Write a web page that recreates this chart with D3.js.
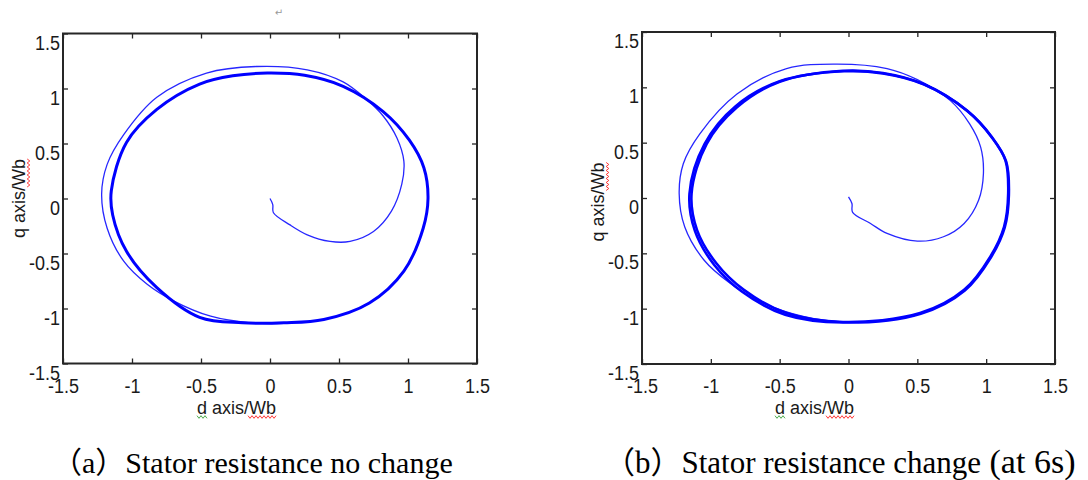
<!DOCTYPE html>
<html><head><meta charset="utf-8">
<script src="https://cdn.jsdelivr.net/npm/d3@7"></script>
<style>body{margin:0;background:#fff;overflow:hidden}</style>
</head><body>
<svg id="c" width="1088" height="480"></svg>
<script>
// ---- data ----
const tickValues = [-1.5, -1, -0.5, 0, 0.5, 1, 1.5];
const tickLabels = ["-1.5", "-1", "-0.5", "0", "0.5", "1", "1.5"];
const axisTitleX = "d axis/Wb";
const axisTitleY = "q axis/Wb";
const captionA = "（a）Stator resistance no change";
const captionB = "（b）Stator resistance change";
const captionBTail = " (at 6s)";

// panel (a): start-up transient of the flux trajectory [d, q]
const transientA = [
  [0.0, 0.0], [0.02, -0.055], [0.025, -0.13], [0.145, -0.24], [0.27, -0.33],
  [0.435, -0.39], [0.58, -0.39], [0.75, -0.30], [0.88, -0.115], [0.955, 0.13],
  [0.97, 0.34], [0.92, 0.55], [0.82, 0.75], [0.70, 0.90], [0.53, 1.06],
  [0.27, 1.17], [-0.1, 1.20], [-0.46, 1.14], [-0.82, 0.92], [-1.06, 0.58],
  [-1.18, 0.31], [-1.22, 0.04], [-1.18, -0.27], [-1.06, -0.57], [-0.89, -0.78],
  [-0.70, -0.93], [-0.43, -1.07], [-0.145, -1.13], [0.1, -1.135]
];
// panel (a): steady-state flux circle
const steadyA = [
  [1.145, 0.0], [1.115, 0.28], [1.01, 0.53], [0.82, 0.79], [0.53, 1.02],
  [0.25, 1.12], [-0.02, 1.14], [-0.27, 1.115], [-0.51, 1.04], [-0.82, 0.81],
  [-1.04, 0.51], [-1.15, 0.07], [-1.14, -0.15], [-1.04, -0.48], [-0.82, -0.81],
  [-0.51, -1.08], [-0.2, -1.13], [0.1, -1.13], [0.39, -1.1], [0.72, -0.95],
  [0.97, -0.66], [1.11, -0.27]
];
// panel (b): start-up transient
const transientB = [
  [0.0, 0.01], [0.025, -0.05], [0.03, -0.13], [0.16, -0.23], [0.28, -0.32],
  [0.50, -0.39], [0.69, -0.35], [0.84, -0.23], [0.945, -0.02], [0.98, 0.22],
  [0.96, 0.46], [0.88, 0.67], [0.74, 0.88], [0.50, 1.07], [0.28, 1.17],
  [-0.08, 1.21], [-0.45, 1.17], [-0.81, 0.94], [-1.08, 0.58], [-1.20, 0.31],
  [-1.23, 0.04], [-1.19, -0.26], [-1.05, -0.56], [-0.86, -0.77], [-0.62, -0.95],
  [-0.33, -1.07], [-0.04, -1.12], [0.2, -1.11]
];
// panel (b): steady circle before the resistance change
const steadyB1 = [
  [1.16, 0.04], [1.14, 0.34], [1.04, 0.55], [0.86, 0.79], [0.545, 1.03],
  [0.25, 1.13], [-0.04, 1.15], [-0.5, 1.05], [-0.81, 0.82], [-1.03, 0.49],
  [-1.14, 0.04], [-1.10, -0.29], [-0.96, -0.59], [-0.76, -0.83], [-0.45, -1.04],
  [-0.04, -1.12], [0.52, -1.04], [0.84, -0.83], [1.03, -0.53], [1.13, -0.26]
];
// panel (b): steady circle after the resistance change
const steadyB2 = [
  [1.165, 0.03], [1.145, 0.33], [1.045, 0.545], [0.865, 0.785], [0.55, 1.025],
  [0.25, 1.125], [-0.03, 1.145], [-0.5, 1.055], [-0.82, 0.83], [-1.045, 0.49],
  [-1.155, 0.04], [-1.115, -0.30], [-0.975, -0.605], [-0.775, -0.845], [-0.46, -1.055],
  [-0.04, -1.125], [0.525, -1.045], [0.845, -0.835], [1.035, -0.535], [1.135, -0.265]
];

// ---- drawing ----
const svg = d3.select("#c");
svg.append("rect").attr("width", 1088).attr("height", 480).attr("fill", "#fff");

const axisColor = "#262626";
const blue = "#0000ff";
const tickFont = "'Liberation Sans', Arial, sans-serif";
const stretch = 1.15;

function squiggle(x1, x2, y, color, vertical) {
  const pts = [];
  let i = 0;
  for (let t = x1; t <= x2; t += 2, i++) {
    const o = (i % 2 ? 1.3 : -1.3);
    pts.push(vertical ? [y + o, t] : [t, y + o]);
  }
  svg.append("path").attr("d", d3.line()(pts)).attr("fill", "none")
    .attr("stroke", color).attr("stroke-width", 0.9);
}

function panel(box, transient, loops, loopWidth, titleXStart, titleYCenter, titleYBase) {
  const x = d3.scaleLinear().domain([tickValues[0], tickValues[tickValues.length - 1]]).range([box.l, box.r]);
  const y = d3.scaleLinear().domain([tickValues[0], tickValues[tickValues.length - 1]]).range([box.b, box.t]);
  const g = svg.append("g");
  const fmt = (d) => tickLabels[tickValues.indexOf(d)];

  const gb = g.append("g").attr("transform", `translate(0,${box.b})`)
    .call(d3.axisBottom(x).tickValues(tickValues).tickFormat(fmt).tickSizeInner(-5).tickSizeOuter(0).tickPadding(16));
  const gl = g.append("g").attr("transform", `translate(${box.l},0)`)
    .call(d3.axisLeft(y).tickValues(tickValues).tickFormat(fmt).tickSizeInner(-5).tickSizeOuter(0).tickPadding(3));
  const gt = g.append("g").attr("transform", `translate(0,${box.t})`)
    .call(d3.axisTop(x).tickValues(tickValues).tickFormat("").tickSizeInner(-5).tickSizeOuter(0));
  const gr = g.append("g").attr("transform", `translate(${box.r},0)`)
    .call(d3.axisRight(y).tickValues(tickValues).tickFormat("").tickSizeInner(-5).tickSizeOuter(0));
  [gb, gl, gt, gr].forEach(a => {
    a.select(".domain").remove();
    a.selectAll(".tick line").attr("stroke", axisColor).attr("stroke-width", 1.3);
    a.selectAll("text").attr("font-family", tickFont).attr("font-size", 18).attr("fill", "#1a1a1a");
  });
  // vertically stretched tick labels, as in the source figure
  gb.selectAll("text").attr("dy", 0).attr("y", 29.5 / stretch).attr("transform", `scale(1,${stretch})`);
  gl.selectAll("text").attr("dy", 0).attr("y", 15.5 / stretch).attr("transform", `scale(1,${stretch})`);

  g.append("rect").attr("x", box.l).attr("y", box.t).attr("width", box.r - box.l).attr("height", box.b - box.t)
    .attr("fill", "none").attr("stroke", axisColor).attr("stroke-width", 2);

  const closed = d3.line().x(d => x(d[0])).y(d => y(d[1])).curve(d3.curveCatmullRomClosed.alpha(0.5));
  const open = d3.line().x(d => x(d[0])).y(d => y(d[1])).curve(d3.curveCatmullRom.alpha(0.5));
  loops.forEach(lp => {
    g.append("path").attr("d", closed(lp)).attr("fill", "none").attr("stroke", blue)
      .attr("stroke-width", loopWidth).attr("stroke-linejoin", "round");
  });
  g.append("path").attr("d", open(transient)).attr("fill", "none").attr("stroke", blue)
    .attr("stroke-opacity", 0.85).attr("stroke-width", 1.3);

  // axis titles
  const tx = g.append("text").attr("x", titleXStart).attr("y", 414)
    .attr("font-family", tickFont).attr("font-size", 18).attr("fill", "#1a1a1a").text(axisTitleX);
  const node = tx.node();
  const wD = node.getSubStringLength(0, 1);
  const wAll = node.getComputedTextLength();
  const wB = node.getSubStringLength(axisTitleX.length - 2, 2);
  squiggle(titleXStart, titleXStart + wD + 1, 417, "#3aa03a", false);
  squiggle(titleXStart + wAll - wB - 1, titleXStart + wAll, 417, "#ff2020", false);

  const ty = g.append("text").attr("transform", `translate(${titleYBase},${titleYCenter}) rotate(-90)`)
    .attr("text-anchor", "middle").attr("font-family", tickFont).attr("font-size", 18)
    .attr("fill", "#1a1a1a").text(axisTitleY);
  const tyn = ty.node();
  const yAll = tyn.getComputedTextLength();
  const yB = tyn.getSubStringLength(axisTitleY.length - 2, 2);
  const topEnd = titleYCenter - yAll / 2;
  squiggle(topEnd, topEnd + yB + 1, titleYBase + 3.5, "#ff2020", true);
}

panel({ l: 63, r: 477, t: 33.5, b: 363.5 }, transientA, [steadyA], 3, 197, 198.5, 25);
panel({ l: 642, r: 1055, t: 32, b: 364 }, transientB, [steadyB1, steadyB2], 2.6, 775, 202, 604);

// captions
const capFont = "'Liberation Serif', 'Times New Roman', 'Noto Sans CJK SC', serif";
svg.append("text").attr("x", 52).attr("y", 473).attr("font-family", capFont).attr("font-size", 30)
  .attr("fill", "#000").text(captionA);
const cb = svg.append("text").attr("x", 604).attr("y", 473).attr("font-family", capFont).attr("font-size", 31)
  .attr("fill", "#000");
cb.append("tspan").text(captionB);
cb.append("tspan").attr("font-size", 34).text(captionBTail);

// stray paragraph mark from the source document
svg.append("text").attr("x", 279).attr("y", 16).attr("text-anchor", "middle").attr("font-size", 10)
  .attr("font-family", "'DejaVu Sans', sans-serif").attr("fill", "#999").text("↵");
</script>
</body></html>
